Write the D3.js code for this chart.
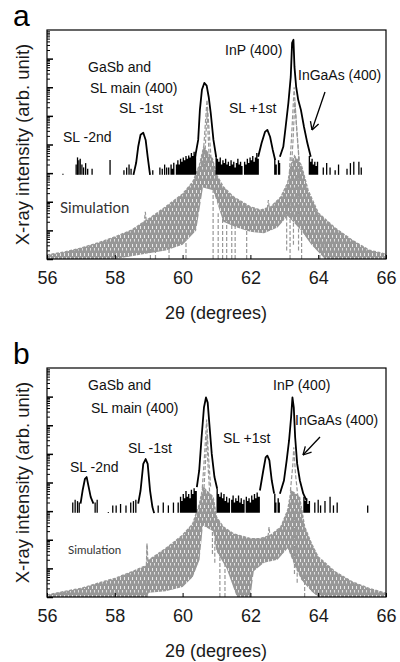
<!DOCTYPE html>
<html>
<head>
<meta charset="utf-8">
<script src="https://cdn.jsdelivr.net/npm/d3@7"></script>
<style>
  body { margin: 0; background: #fff; }
  svg { display: block; }
</style>
</head>
<body>
<svg id="chart" width="400" height="662"></svg>
<script>
// XRD scans, two samples (a, b). Intensities are stored as log10 (decades above the axis bottom),
// read off the picture. Black = measured, grey = simulation.

const xDomain = [56, 66];
const xTicks = [56, 58, 60, 62, 64, 66];
const decades = 8;
const measBase = 2.94;   // level the measured counts drop back to

const peakNames = ["GaSb and", "SL main (400)", "SL -1st", "SL -2nd", "InP (400)", "InGaAs (400)", "SL +1st"];

// ---- panel a ----
const peaksA = [
  [[58.55, 2.94], [58.63, 3.36], [58.69, 3.92], [58.76, 4.34], [58.84, 4.41], [58.91, 4.16], [58.97, 3.57], [59.04, 2.94]],
  [[60.37, 3.57], [60.46, 4.16], [60.51, 5.21], [60.57, 5.91], [60.64, 6.15], [60.71, 6.06], [60.77, 5.66], [60.83, 5.1], [60.91, 4.16], [60.99, 3.57]],
  [[62.23, 3.57], [62.33, 4.05], [62.43, 4.44], [62.5, 4.51], [62.58, 4.27], [62.66, 3.81], [62.73, 3.46]],
  [[62.87, 3.57], [62.97, 3.92], [63.04, 4.62], [63.12, 5.45], [63.19, 6.36], [63.23, 7.55], [63.27, 7.66], [63.3, 6.71], [63.35, 6.01],
   [63.41, 5.56], [63.49, 5.21], [63.58, 4.62], [63.68, 4.05], [63.78, 3.57]]
];
const noiseA = [
  [[59.57, 3.2], [59.61, 2.94], [59.64, 3.3], [59.68, 3.15], [59.72, 3.36], [59.76, 2.94], [59.8, 3.3], [59.84, 3.45], [59.88, 3.3],
   [59.92, 3.5], [59.96, 3.4], [60.0, 3.55], [60.04, 3.45], [60.08, 3.6], [60.12, 3.5], [60.16, 3.62], [60.2, 3.55], [60.24, 3.7],
   [60.28, 3.6], [60.32, 3.75], [60.36, 3.65], [60.4, 3.6]],
  [[60.97, 3.6], [61.01, 3.5], [61.05, 3.4], [61.09, 3.55], [61.13, 3.3], [61.17, 3.45], [61.21, 3.35], [61.25, 3.5], [61.29, 3.3],
   [61.33, 3.4], [61.37, 3.25], [61.41, 3.45], [61.45, 3.3], [61.49, 3.4], [61.53, 3.2], [61.57, 3.35], [61.61, 3.5], [61.65, 3.3],
   [61.69, 3.4], [61.73, 3.25], [61.77, 2.94], [61.81, 3.4], [61.85, 3.3], [61.89, 3.5], [61.93, 3.35], [61.97, 3.55], [62.01, 3.45],
   [62.05, 3.6], [62.09, 3.4], [62.13, 3.55], [62.17, 3.7], [62.21, 3.5], [62.25, 3.6]],
  [[62.7, 3.5], [62.74, 3.3], [62.78, 2.94], [62.81, 3.45], [62.85, 3.35], [62.88, 3.6]],
  [[63.72, 3.6], [63.76, 3.4], [63.8, 3.5], [63.84, 3.3], [63.88, 3.4], [63.92, 3.25], [63.96, 3.4], [64.0, 2.94], [64.03, 3.2]]
];
const spikesA = [[56.47, 2.98], [56.86, 3.3], [56.9, 3.55], [56.94, 3.45], [56.98, 3.5], [57.03, 3.3], [57.08, 3.2], [57.14, 3.35],
  [57.2, 3.15], [57.33, 3.15], [57.86, 3.46], [58.27, 3.1], [58.35, 3.2], [58.42, 3.3], [58.48, 3.15], [59.12, 3.1], [59.33, 3.2],
  [59.4, 3.15], [59.47, 3.3], [59.53, 3.2], [64.15, 3.2], [64.25, 3.35], [64.35, 3.2], [64.5, 3.1], [64.6, 3.3],
  [64.85, 3.15], [64.95, 3.35], [65.05, 3.4], [65.2, 3.4], [65.27, 3.2]];
const simTopA = [[56, 0.14], [56.5, 0.24], [57, 0.38], [57.5, 0.56], [58, 0.77], [58.5, 1.01], [58.85, 1.29], [59, 1.4], [59.5, 1.82],
  [60, 2.27], [60.3, 2.69], [60.5, 3.29], [60.62, 3.9], [60.88, 3.5], [61, 2.94], [61.2, 2.52], [61.5, 2.17], [62, 1.82], [62.3, 1.71],
  [62.6, 1.82], [62.9, 2.17], [63.1, 2.66], [63.2, 3.29], [63.3, 3.6], [63.5, 3.29], [63.7, 2.41], [64, 1.61], [64.5, 1.08], [65, 0.66],
  [65.5, 0.31], [66, 0.17]];
const simBotA = [[56, 0], [58, 0], [58.5, 0.1], [59, 0.2], [59.5, 0.3], [60, 0.5], [60.4, 1.0], [60.6, 2.5], [60.9, 2.4], [61.2, 1.3],
  [61.6, 1.1], [62, 0.95], [62.4, 0.9], [62.8, 1.1], [63.1, 1.5], [63.5, 1.0], [63.8, 0.5], [64.2, 0], [66, 0]];
const simPeaksA = [
  [[60.6, 3.5], [60.67, 4.7], [60.72, 5.56], [60.77, 4.7], [60.84, 3.5]],
  [[60.64, 3.2], [60.69, 4.4], [60.73, 5.2], [60.75, 4.4], [60.8, 3.2]],
  [[63.15, 3.0], [63.22, 4.4], [63.29, 6.0], [63.36, 4.6], [63.45, 3.2]],
  [[63.2, 3.0], [63.26, 4.2], [63.31, 5.5], [63.39, 4.2], [63.48, 2.8]],
  [[58.86, 1.2], [58.9, 1.65], [58.94, 1.2]],
  [[62.5, 1.75], [62.53, 2.06], [62.56, 1.75]]
];
const simDropsA = [[59.05, 0, 0.6], [59.2, 0, 0.7], [59.6, 0, 0.6], [60.1, 0, 0.8], [60.9, 0, 2.4], [61.05, 0, 1.6], [61.18, 0, 1.5],
  [61.3, 0, 1.3], [61.45, 0, 1.2], [61.55, 0, 1.2], [61.89, 0, 1.0], [63.07, 0.3, 2.0], [63.17, 0, 2.2], [63.27, 0.5, 3.0],
  [63.42, 0.3, 3.6], [63.51, 0, 1.5], [64.05, 0, 1.0], [64.2, 0, 0.9], [64.4, 0, 0.8]];

// ---- panel b ----
const peaksB = [
  [[56.99, 3.26], [57.05, 3.72], [57.12, 4.13], [57.17, 4.19], [57.23, 3.84], [57.29, 3.49], [57.37, 3.26]],
  [[58.69, 3.26], [58.76, 3.72], [58.84, 4.65], [58.91, 4.82], [58.97, 4.65], [59.04, 3.72], [59.11, 3.14], [59.16, 2.93]],
  [[60.42, 3.84], [60.49, 4.42], [60.56, 5.58], [60.63, 6.62], [60.69, 6.97], [60.74, 6.79], [60.79, 6.04], [60.86, 5.0], [60.94, 4.19], [61.02, 3.78]],
  [[62.28, 3.72], [62.38, 4.42], [62.45, 4.88], [62.5, 4.94], [62.56, 4.77], [62.63, 4.07], [62.7, 3.61]],
  [[62.87, 3.61], [62.99, 4.07], [63.07, 4.77], [63.14, 5.46], [63.2, 6.27], [63.24, 6.97], [63.28, 6.62], [63.32, 5.58], [63.38, 4.65],
   [63.46, 4.07], [63.56, 3.61], [63.66, 3.37]]
];
const noiseB = [
  [[59.85, 3.3], [59.89, 2.94], [59.92, 3.5], [59.96, 3.35], [60.0, 3.6], [60.04, 3.45], [60.08, 3.7], [60.12, 3.5], [60.16, 3.6],
   [60.2, 3.45], [60.24, 3.75], [60.28, 3.6], [60.32, 3.8], [60.36, 3.7], [60.42, 3.84]],
  [[61.0, 3.78], [61.04, 3.6], [61.08, 3.5], [61.12, 3.65], [61.16, 3.45], [61.2, 3.6], [61.24, 3.35], [61.28, 3.5], [61.32, 3.3],
   [61.36, 3.45], [61.4, 2.94], [61.43, 3.4], [61.47, 3.55], [61.51, 3.3], [61.55, 3.45], [61.59, 3.35], [61.63, 3.55], [61.67, 3.3],
   [61.71, 3.45], [61.75, 3.25], [61.79, 3.4], [61.83, 2.94], [61.86, 3.5], [61.9, 3.35], [61.94, 3.45], [61.98, 3.3], [62.02, 3.55],
   [62.06, 3.4], [62.1, 3.6], [62.14, 3.45], [62.18, 3.65], [62.22, 3.5], [62.28, 3.6]],
  [[62.7, 3.61], [62.74, 3.3], [62.77, 2.94], [62.8, 3.45], [62.84, 3.3], [62.87, 3.6]],
  [[63.56, 3.5], [63.6, 3.35], [63.64, 3.45], [63.68, 3.25], [63.72, 3.35], [63.76, 2.94], [63.78, 3.2]]
];
const spikesB = [[56.76, 3.3], [56.83, 3.4], [56.9, 3.35], [56.95, 3.3], [57.42, 3.3], [57.48, 3.4], [57.81, 2.97], [57.94, 3.2],
  [58.04, 3.2], [58.17, 3.25], [58.33, 3.2], [58.47, 3.3], [58.55, 3.35], [58.62, 3.4], [59.28, 3.2], [59.43, 3.3], [59.58, 3.2],
  [59.73, 3.3], [63.9, 3.3], [64.0, 3.4], [64.07, 3.2], [64.2, 3.35], [64.35, 3.5], [64.45, 3.2], [64.56, 3.3], [65.46, 3.2]];
const simTopB = [[56, 0.07], [56.5, 0.19], [57, 0.3], [57.5, 0.48], [58, 0.65], [58.5, 0.88], [58.95, 1.11], [59, 1.29], [59.5, 1.69],
  [60, 2.16], [60.3, 2.56], [60.5, 3.26], [60.6, 3.84], [60.9, 3.49], [61, 2.79], [61.2, 2.45], [61.5, 2.21], [62, 2.04], [62.3, 2.04],
  [62.6, 2.16], [62.9, 2.45], [63.1, 3.03], [63.2, 3.72], [63.45, 3.49], [63.6, 2.45], [63.8, 1.87], [64, 1.4], [64.5, 0.88],
  [65, 0.53], [65.5, 0.3], [66, 0.13]];
const simBotB = [[56, 0], [58.95, 0], [59, 0.15], [59.5, 0.2], [60, 0.35], [60.3, 0.7], [60.5, 1.3], [60.6, 2.5], [60.9, 2.3], [61, 1.6],
  [61.3, 1.0], [61.6, 0], [62, 0], [62.1, 0.9], [62.4, 1.2], [62.8, 1.3], [63.1, 1.7], [63.3, 1.1], [63.5, 0.6], [63.8, 0.2], [64, 0], [66, 0]];
const simPeaksB = [
  [[60.58, 3.8], [60.65, 5.0], [60.71, 6.2], [60.76, 5.0], [60.83, 3.8]],
  [[60.62, 3.6], [60.68, 4.8], [60.72, 5.7], [60.74, 4.8], [60.8, 3.6]],
  [[63.18, 3.7], [63.25, 4.6], [63.28, 5.23], [63.33, 4.3], [63.4, 3.5]],
  [[58.93, 1.1], [58.95, 1.87], [58.98, 1.2]],
  [[62.52, 2.1], [62.55, 2.45], [62.58, 2.1]]
];
const simDropsB = [[58.95, 0, 1.8], [60.88, 1.5, 2.4], [60.95, 1.2, 2.0], [61.1, 0, 1.5], [61.25, 0, 1.2], [63.3, 0.8, 3.0],
  [63.38, 0.5, 2.3], [63.6, 0, 0.8]];

const svg = d3.select("#chart");
const grey = "#979797";
const textFont = "'Liberation Sans', Arial, sans-serif";

// speckled fill for the dense simulated fringes
const pat = svg.append("defs").append("pattern")
  .attr("id", "simTex").attr("patternUnits", "userSpaceOnUse")
  .attr("width", 4).attr("height", 9);
pat.append("rect").attr("width", 4).attr("height", 9).attr("fill", grey);
pat.append("rect").attr("x", 0).attr("y", 1).attr("width", 1).attr("height", 3)
  .attr("fill", "#fff").attr("opacity", 0.8);
pat.append("rect").attr("x", 2).attr("y", 5).attr("width", 1).attr("height", 2.5)
  .attr("fill", "#fff").attr("opacity", 0.7);

function drawPanel(p) {
  const g = svg.append("g");
  const x = d3.scaleLinear().domain(xDomain).range([47, 386]);
  const y = d3.scaleLog().domain([1, Math.pow(10, decades)]).range([p.bottom, p.top]);
  const Y = e => y(Math.pow(10, e));
  const line = d3.line().x(d => x(d[0])).y(d => Y(d[1]));

  const clipId = "clip" + p.id;
  g.append("clipPath").attr("id", clipId)
    .append("rect").attr("x", 47).attr("y", p.top).attr("width", 339).attr("height", p.bottom - p.top);
  const plot = g.append("g").attr("clip-path", `url(#${clipId})`);

  // simulation band
  plot.append("path")
    .attr("d", line(p.simTop.concat(p.simBot.slice().reverse())) + "Z")
    .attr("fill", "url(#simTex)");
  plot.append("path")
    .attr("d", line(p.simTop))
    .attr("fill", "none").attr("stroke", grey).attr("stroke-width", 1.4)
    .attr("stroke-dasharray", "3,1.5");
  plot.selectAll(".drop").data(p.simDrops).enter().append("line")
    .attr("x1", d => x(d[0])).attr("x2", d => x(d[0]))
    .attr("y1", d => Y(d[1])).attr("y2", d => Y(d[2]))
    .attr("stroke", grey).attr("stroke-width", 1.2).attr("stroke-dasharray", "4,2");
  plot.selectAll(".simpeak").data(p.simPeaks).enter().append("path")
    .attr("d", line)
    .attr("fill", "none").attr("stroke", grey).attr("stroke-width", 1.2)
    .attr("stroke-dasharray", "4,2");

  // measured
  const area = d3.area().curve(d3.curveStepAfter)
    .x(d => x(d[0])).y0(Y(measBase)).y1(d => Y(d[1]));
  plot.selectAll(".noise").data(p.noise).enter().append("path")
    .attr("d", area).attr("fill", "#000");
  plot.selectAll(".spike").data(p.spikes).enter().append("line")
    .attr("x1", d => x(d[0])).attr("x2", d => x(d[0]))
    .attr("y1", Y(measBase)).attr("y2", d => Y(d[1]))
    .attr("stroke", "#000").attr("stroke-width", 1.3);
  plot.selectAll(".peak").data(p.peaks).enter().append("path")
    .attr("d", line)
    .attr("fill", "none").attr("stroke", "#000").attr("stroke-width", 1.8)
    .attr("stroke-linejoin", "round");

  // frame
  g.append("rect")
    .attr("x", 47).attr("y", p.top).attr("width", 339).attr("height", p.bottom - p.top)
    .attr("fill", "none").attr("stroke", "#000").attr("stroke-width", 1.2);

  // log ticks, inside the left edge
  const major = d3.range(0, decades).map(k => Math.pow(10, k));
  const minor = [];
  major.forEach(m => { for (let k = 2; k <= 9; k++) minor.push(m * k); });
  g.append("g").attr("transform", "translate(47,0)")
    .call(d3.axisLeft(y).tickValues(major).tickSize(-6).tickFormat(""))
    .call(a => a.select(".domain").remove())
    .selectAll("line").attr("stroke-width", 1.5);
  g.append("g").attr("transform", "translate(47,0)")
    .call(d3.axisLeft(y).tickValues(minor).tickSize(-3).tickFormat(""))
    .call(a => a.select(".domain").remove());

  const xa = g.append("g").attr("transform", `translate(0,${p.bottom})`)
    .call(d3.axisBottom(x).tickValues(xTicks).tickSize(-4).tickPadding(12).tickFormat(d3.format("d")));
  xa.select(".domain").remove();
  xa.selectAll("text").attr("font-family", textFont).attr("font-size", 18).attr("fill", "#1a1a1a");

  g.append("text")
    .attr("x", 216).attr("y", p.bottom + 60)
    .attr("text-anchor", "middle")
    .attr("font-family", textFont).attr("font-size", 18).attr("fill", "#1a1a1a")
    .text("2θ (degrees)");

  g.append("text")
    .attr("transform", `translate(29,${(p.top + p.bottom) / 2}) rotate(-90)`)
    .attr("text-anchor", "middle")
    .attr("font-family", textFont).attr("font-size", 18.5).attr("fill", "#1a1a1a")
    .text("X-ray intensity (arb. unit)");

  g.append("text")
    .attr("x", 13).attr("y", p.top - 4)
    .attr("font-family", textFont).attr("font-size", 30).attr("fill", "#000")
    .text(p.id);

  // peak annotations
  g.selectAll(".ann").data(peakNames).enter().append("text")
    .attr("x", (d, i) => p.labelPos[i][0]).attr("y", (d, i) => p.labelPos[i][1])
    .attr("font-family", textFont).attr("font-size", 14).attr("fill", "#111")
    .text(d => d);

  g.append("text")
    .attr("x", p.simPos[0]).attr("y", p.simPos[1])
    .attr("font-family", "Lato, 'Open Sans', sans-serif").attr("font-size", p.simSize).attr("fill", "#333")
    .text("Simulation");

  // arrow to the InGaAs shoulder
  const [ax1, ay1, ax2, ay2] = p.arrow;
  const ang = Math.atan2(ay2 - ay1, ax2 - ax1);
  g.append("line").attr("x1", ax1).attr("y1", ay1).attr("x2", ax2).attr("y2", ay2)
    .attr("stroke", "#000").attr("stroke-width", 1.3);
  [-0.5, 0.5].forEach(s => {
    g.append("line").attr("x1", ax2).attr("y1", ay2)
      .attr("x2", ax2 - 9 * Math.cos(ang + s)).attr("y2", ay2 - 9 * Math.sin(ang + s))
      .attr("stroke", "#000").attr("stroke-width", 1.3);
  });
}

drawPanel({
  id: "a", top: 30, bottom: 259,
  peaks: peaksA, noise: noiseA, spikes: spikesA,
  simTop: simTopA, simBot: simBotA, simPeaks: simPeaksA, simDrops: simDropsA,
  labelPos: [[88, 72], [90, 93], [119, 113], [63, 142], [225, 55], [298, 80], [229, 113]],
  simPos: [60, 213], simSize: 15,
  arrow: [325, 92, 312, 130]
});
drawPanel({
  id: "b", top: 368, bottom: 597,
  peaks: peaksB, noise: noiseB, spikes: spikesB,
  simTop: simTopB, simBot: simBotB, simPeaks: simPeaksB, simDrops: simDropsB,
  labelPos: [[88, 390], [91, 413], [128, 453], [70, 472], [273, 390], [295, 425], [223, 443]],
  simPos: [68, 554], simSize: 11.5,
  arrow: [320, 437, 303, 455]
});
</script>
</body>
</html>
